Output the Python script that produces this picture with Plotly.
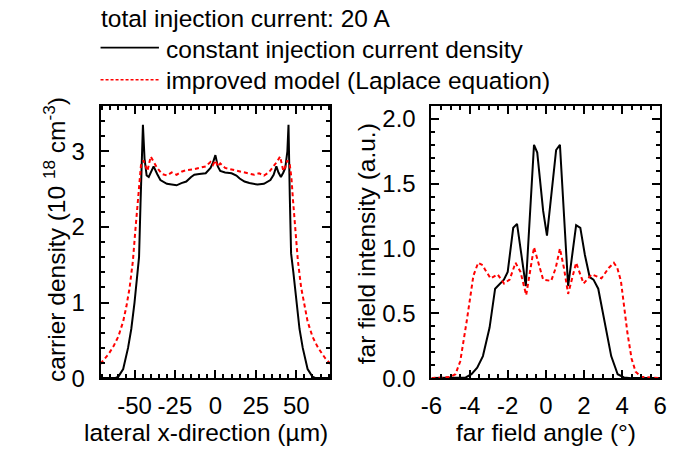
import plotly.graph_objects as go

W, H = 674, 465

# ---- Left panel: carrier density vs lateral position ----
cd_x_const = [-71, -62, -60, -57, -54, -52, -50, -48.5, -47.2, -46.3, -45.5, -44.8, -43.8, -42.5, -41.2,
              -39.5, -38.2, -36, -34, -30, -26, -24, -21, -18, -15, -13, -10, -6, -3, -1.5, 0,
              1.5, 3, 6, 10, 13, 15, 18, 21, 24, 26, 30, 34, 36, 37.7, 39, 40.5, 42, 43.2, 44.5,
              45.2, 46.0, 46.8, 48.2, 50, 52, 54, 57, 60, 62, 71]
cd_y_const = [0, 0, 0.02, 0.12, 0.4, 0.65, 1.0, 1.35, 1.6, 2.3, 3.0, 3.35, 2.9, 2.68, 2.66,
              2.75, 2.8, 2.7, 2.62, 2.57, 2.56, 2.55, 2.58, 2.6, 2.66, 2.69, 2.7, 2.71, 2.78, 2.85, 2.95,
              2.8, 2.74, 2.72, 2.71, 2.68, 2.64, 2.6, 2.58, 2.57, 2.56, 2.57, 2.62, 2.69, 2.8, 2.72, 2.66, 2.72, 2.78, 3.0,
              3.35, 2.4, 1.65, 1.4, 1.0, 0.65, 0.4, 0.12, 0.02, 0, 0]

cd_x_lap = [-71, -68, -66, -63, -60, -57, -55, -53, -51, -49.5, -48, -47, -46, -44.5, -43, -42, -40,
            -38, -36, -33, -30, -27, -24, -21, -18, -14, -10, -6, -3, -1.5, 0, 1.5, 3, 6, 10, 14, 18,
            21, 24, 27, 30, 33, 36, 38, 40, 42, 43, 44.5, 46, 47, 48, 49.5, 51, 53, 55, 57, 60, 63, 66, 68, 71]
cd_y_lap = [0.19, 0.26, 0.32, 0.42, 0.55, 0.75, 0.95, 1.2, 1.55, 1.95, 2.35, 2.65, 2.82, 2.88, 2.78, 2.74, 2.93,
            2.86, 2.78, 2.7, 2.68, 2.72, 2.69, 2.73, 2.75, 2.76, 2.78, 2.8, 2.86, 2.82, 2.88, 2.8, 2.84, 2.78, 2.76, 2.74, 2.72,
            2.7, 2.69, 2.71, 2.68, 2.72, 2.8, 2.86, 2.93, 2.74, 2.78, 2.88, 2.82, 2.65, 2.35, 1.95, 1.55, 1.2, 0.95, 0.75, 0.55, 0.42, 0.32, 0.26, 0.19]

# ---- Right panel: far field intensity vs angle ----
ff_x_const = [-6, -4.5, -4.2, -3.9, -3.6, -3.3, -2.95, -2.66, -2.4, -2.2, -2.0, -1.71, -1.51, -1.05, -0.62,
              -0.45, -0.14, 0.06, 0.54, 0.74, 1.17, 1.59, 1.81, 2.05, 2.3, 2.5, 2.75, 3.1, 3.43, 3.77, 4.1, 4.5, 6]
ff_y_const = [0, 0, 0.005, 0.03, 0.08, 0.17, 0.39, 0.69, 0.73, 0.76, 0.82, 1.16, 1.19, 0.71, 1.80,
              1.74, 1.29, 1.10, 1.76, 1.80, 0.71, 1.18, 1.16, 0.95, 0.78, 0.76, 0.69, 0.42, 0.17, 0.03, 0.005, 0, 0]

ff_x_lap = [-6, -5, -4.74, -4.49, -4.15, -3.8, -3.55, -3.3, -3.2, -2.9, -2.53, -2.19, -1.9, -1.59, -1.33,
            -1.03, -0.62, -0.4, -0.14, 0.28, 0.52, 0.74, 0.95, 1.17, 1.59, 1.98, 2.41, 2.92, 3.3, 3.57,
            3.75, 3.94, 4.28, 4.5, 4.71, 5, 6]
ff_y_lap = [0, 0.01, 0.03, 0.13, 0.44, 0.79, 0.89, 0.87, 0.84, 0.77, 0.80, 0.73, 0.76, 0.89, 0.82,
            0.64, 1.01, 0.89, 0.76, 0.75, 0.85, 1.0, 0.85, 0.65, 0.89, 0.73, 0.80, 0.77, 0.85, 0.89,
            0.85, 0.75, 0.35, 0.15, 0.05, 0.01, 0]

left_xticks = [-50, -25, 0, 25, 50]
left_xticktext = ["-50", "-25", "0", "25", "50"]
right_xticks = [-6, -4, -2, 0, 2, 4, 6]
right_xticktext = ["-6", "-4", "-2", "0", "2", "4", "6"]
left_yticks = [0, 1, 2, 3]
right_yticks = [0.0, 0.5, 1.0, 1.5, 2.0]

legend_title = "total injection current: 20 A"
name_const = "constant injection current density"
name_lap = "improved model (Laplace equation)"

FONT = "Liberation Sans, Arial, sans-serif"
BLACK_LINE = dict(color="black", width=2)
RED_LINE = dict(color="#ff0000", width=2, dash="4px,3px")

fig = go.Figure()
fig.add_trace(go.Scatter(x=cd_x_const, y=cd_y_const, mode="lines", line=BLACK_LINE, name=name_const,
                         xaxis="x", yaxis="y"))
fig.add_trace(go.Scatter(x=cd_x_lap, y=cd_y_lap, mode="lines", line=RED_LINE, name=name_lap,
                         xaxis="x", yaxis="y"))
fig.add_trace(go.Scatter(x=ff_x_const, y=ff_y_const, mode="lines", line=BLACK_LINE, name=name_const,
                         xaxis="x2", yaxis="y2"))
fig.add_trace(go.Scatter(x=ff_x_lap, y=ff_y_lap, mode="lines", line=RED_LINE, name=name_lap,
                         xaxis="x2", yaxis="y2"))

def px(x):
    return x / W

def py(y):
    return 1 - y / H

axis_common = dict(showline=True, linecolor="black", linewidth=2, mirror="ticks", ticks="inside",
                   ticklen=8, tickwidth=1.5, tickcolor="black", showgrid=False, zeroline=False,
                   tickfont=dict(family=FONT, size=24, color="black"))

fig.update_layout(
    width=W, height=H, margin=dict(l=0, r=0, t=0, b=0),
    paper_bgcolor="white", plot_bgcolor="white", showlegend=False,
    xaxis=dict(domain=[px(92), px(328)], range=[-71, 71], tickvals=left_xticks, ticktext=left_xticktext,
               minor=dict(dtick=5, ticklen=4, tickwidth=1.5, ticks="inside", tickcolor="black"),
               anchor="y", ticklabelstandoff=5, **axis_common),
    yaxis=dict(domain=[py(389), py(109)], range=[0, 3.6], tickvals=left_yticks,
               minor=dict(dtick=0.2, ticklen=4, tickwidth=1.5, ticks="inside", tickcolor="black"),
               anchor="x", ticklabelstandoff=9, **axis_common),
    xaxis2=dict(domain=[px(432), px(667)], range=[-6, 6], tickvals=right_xticks, ticktext=right_xticktext,
                minor=dict(dtick=0.5, ticklen=4, tickwidth=1.5, ticks="inside", tickcolor="black"),
                anchor="y2", ticklabelstandoff=5, **axis_common),
    yaxis2=dict(domain=[py(389), py(109)], range=[0, 2.1], tickvals=right_yticks, tickformat=".1f",
                minor=dict(dtick=0.1, ticklen=4, tickwidth=1.5, ticks="inside", tickcolor="black"),
                anchor="x2", ticklabelstandoff=9, **axis_common),
)

tfont = dict(family=FONT, size=24.5, color="black")
lfont = dict(family=FONT, size=24.5, color="black")
ann = [
    dict(text="lateral x-direction (µm)", x=px(200), y=py(445), xref="paper", yref="paper",
         showarrow=False, xanchor="center", yanchor="middle", font=tfont),
    dict(text="far field angle (°)", x=px(550), y=py(445), xref="paper", yref="paper",
         showarrow=False, xanchor="center", yanchor="middle", font=tfont),
    dict(text="carrier density (10 <sup>18</sup> cm<sup>-3</sup>)", x=px(44), y=py(246),
         xref="paper", yref="paper", showarrow=False, xanchor="center", yanchor="middle",
         textangle=-90, font=tfont),
    dict(text="far field intensity (a.u.)", x=px(366), y=py(251), xref="paper", yref="paper",
         showarrow=False, xanchor="center", yanchor="middle", textangle=-90, font=tfont),
    dict(text=legend_title, x=px(90), y=py(19), xref="paper", yref="paper", showarrow=False,
         xanchor="left", yanchor="middle", font=lfont),
    dict(text=name_const, x=px(157), y=py(51), xref="paper", yref="paper", showarrow=False,
         xanchor="left", yanchor="middle", font=lfont),
    dict(text=name_lap, x=px(157), y=py(83), xref="paper", yref="paper", showarrow=False,
         xanchor="left", yanchor="middle", font=lfont),
]
fig.update_layout(annotations=ann)

fig.add_shape(type="line", xref="paper", yref="paper", x0=px(92), x1=px(152), y0=py(49), y1=py(49),
              line=dict(color="black", width=1.8))
fig.add_shape(type="line", xref="paper", yref="paper", x0=px(92), x1=px(152), y0=py(82), y1=py(82),
              line=dict(color="#ff0000", width=1.5, dash="3px,2px"))

fig.write_html("out.html", config={"displayModeBar": False},
               post_script="document.body.style.margin='0';")
